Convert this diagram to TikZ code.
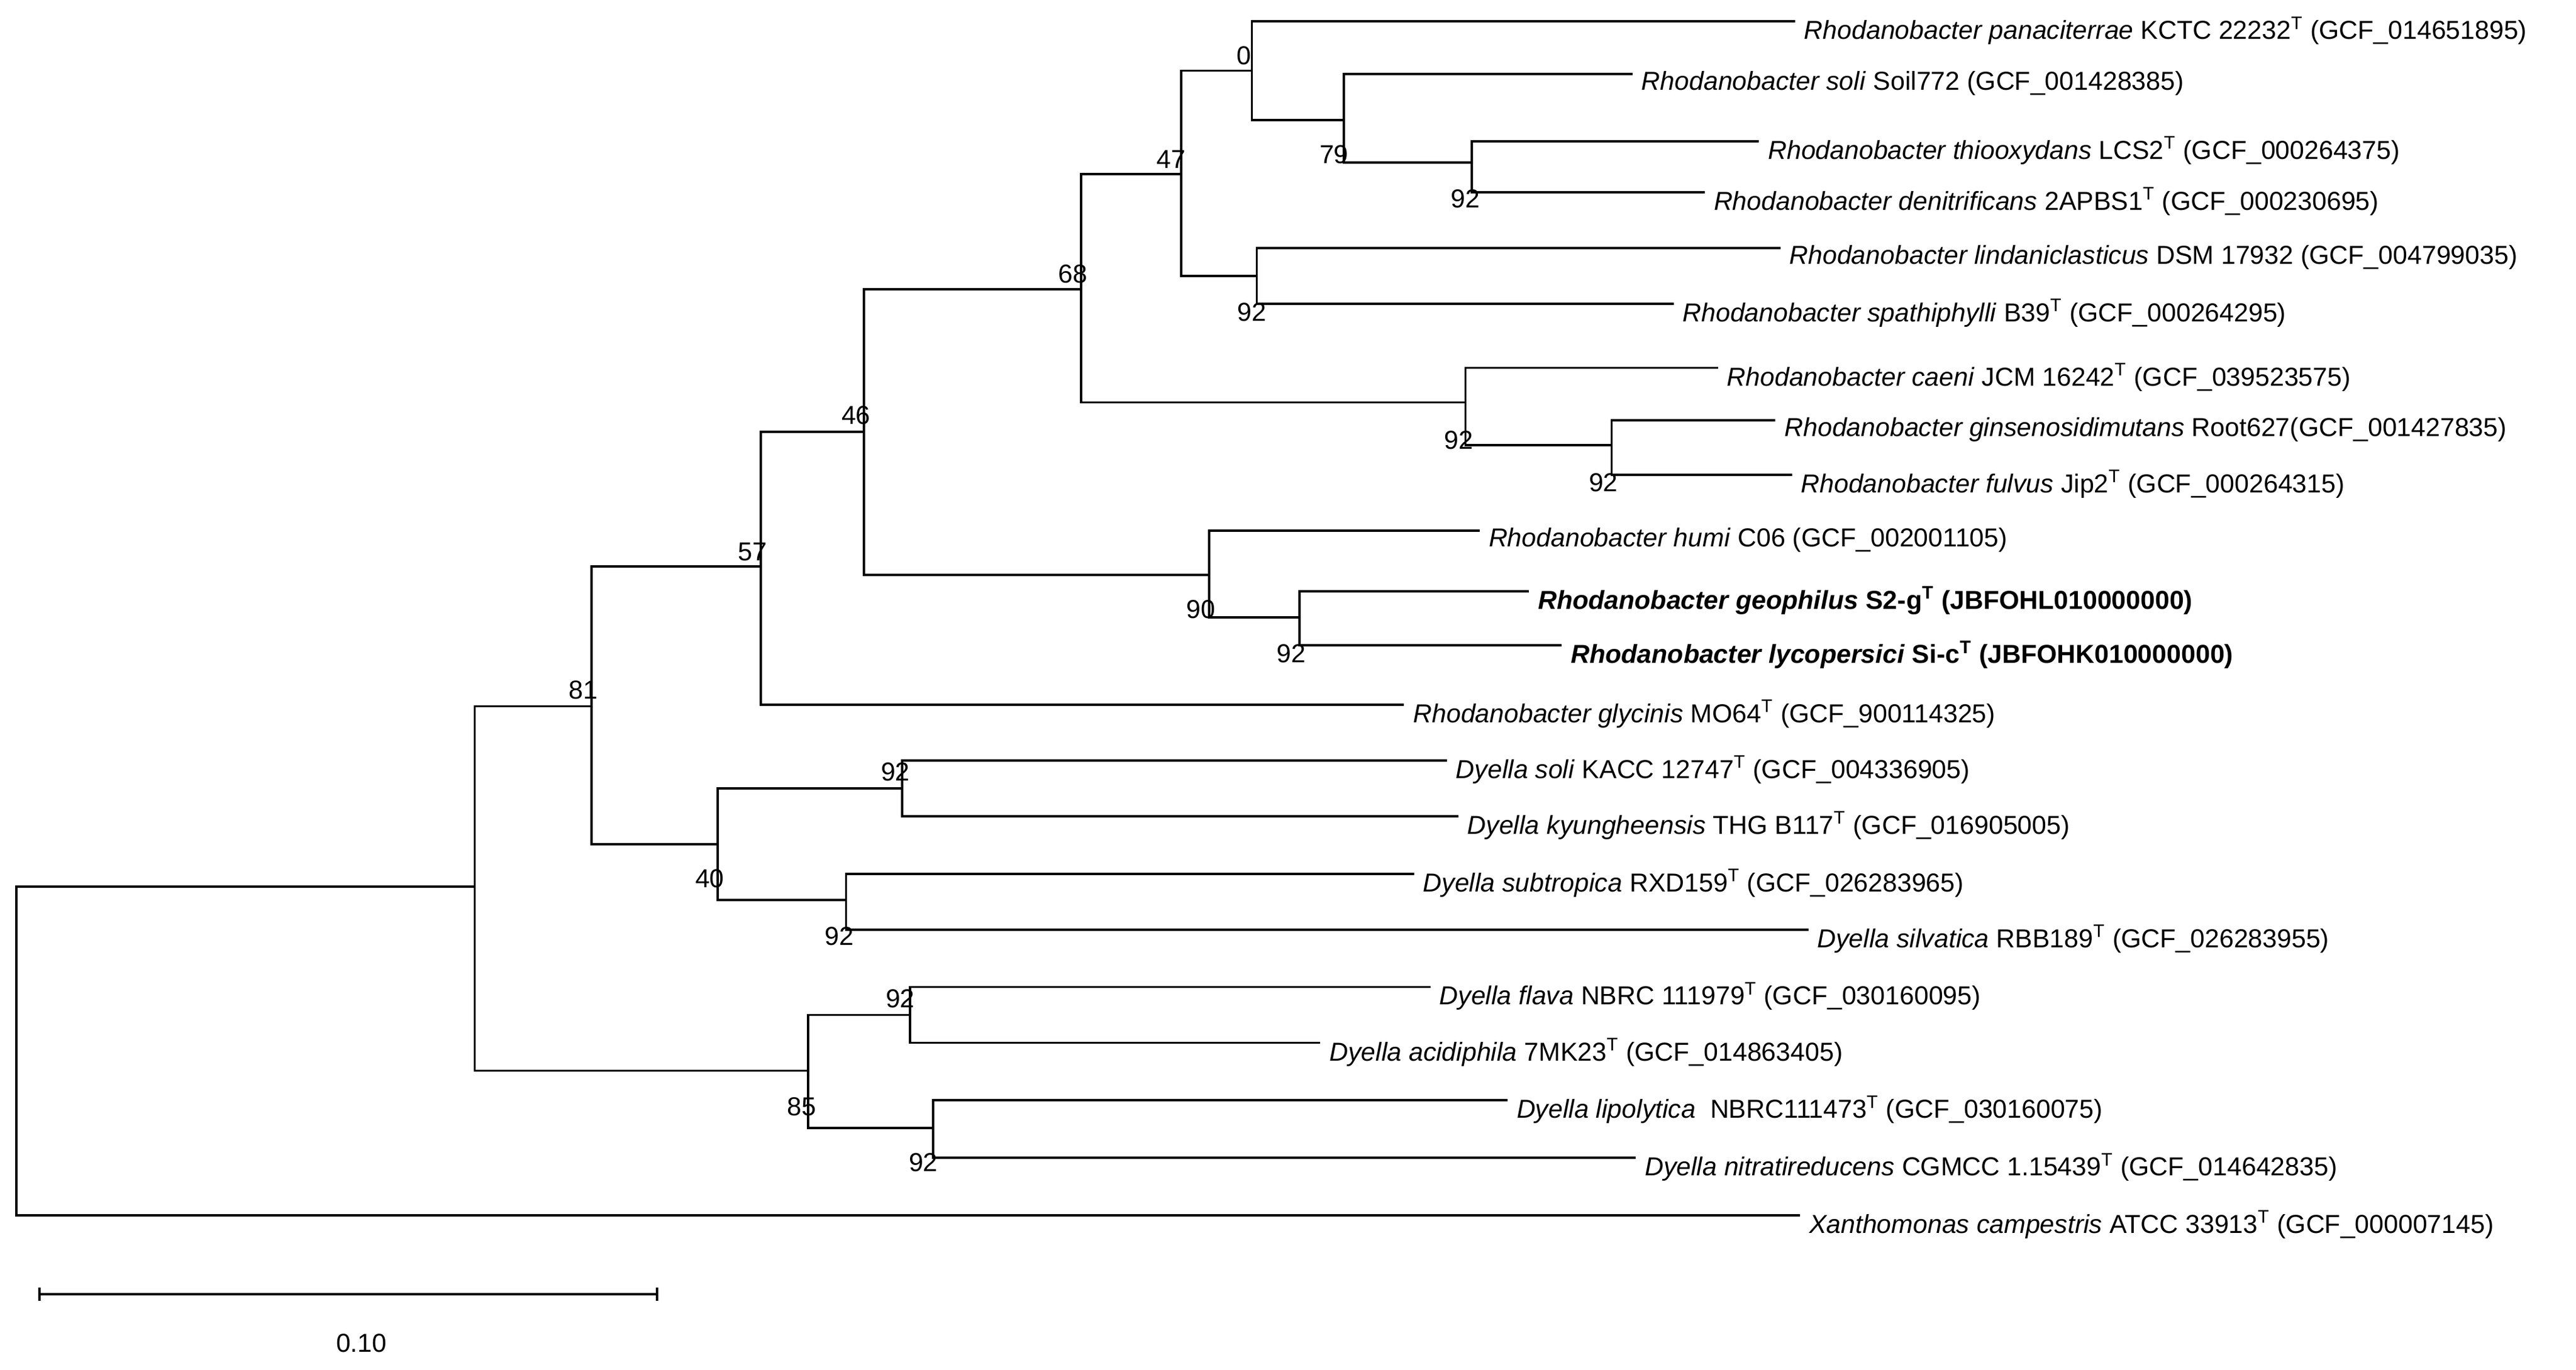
\documentclass[tikz,border=0pt]{standalone}
\usepackage{fontspec}
\setmainfont{Liberation Sans}
\begin{document}
\begin{tikzpicture}[x=0.03cm,y=-0.03cm,
  br/.style={line width=1.2pt,line cap=rect},
  lf/.style={anchor=west,inner sep=0pt,yshift=-0.17cm,font=\fontsize{13.5}{15}\selectfont},
  bs/.style={inner sep=0pt,font=\fontsize{13.5}{15}\selectfont}]
\useasboundingbox (0,0) rectangle (1568,834);
% internal nodes
\coordinate (r) at (10,540);
\coordinate (n289) at (289,540);
\coordinate (n360) at (360,430);
\coordinate (n492) at (492,652);
\coordinate (n463) at (463,345);
\coordinate (n437) at (437,514);
\coordinate (n526) at (526,263);
\coordinate (n658) at (658,176);
\coordinate (n736) at (736,350);
\coordinate (n719) at (719,106);
\coordinate (n892) at (892,245);
\coordinate (n762) at (762,43);
\coordinate (n765) at (765,168);
\coordinate (n818) at (818,73);
\coordinate (n896) at (896,99);
\coordinate (n981) at (981,271);
\coordinate (n791) at (791,376);
\coordinate (n549) at (549,480);
\coordinate (n515) at (515,548);
\coordinate (n554) at (554,618);
\coordinate (n568) at (568,687);
% leaf ends
\coordinate (l1) at (1092,13);
\coordinate (l2) at (993,45);
\coordinate (l3) at (1070,86);
\coordinate (l4) at (1037,117);
\coordinate (l5) at (1083,151);
\coordinate (l6) at (1018,185);
\coordinate (l7) at (1045,224);
\coordinate (l8) at (1080,256);
\coordinate (l9) at (1090,289);
\coordinate (l10) at (900,323);
\coordinate (l11) at (930,360);
\coordinate (l12) at (950,393);
\coordinate (l13) at (854,429);
\coordinate (l14) at (880,463);
\coordinate (l15) at (887,497);
\coordinate (l16) at (860,532);
\coordinate (l17) at (1100,566);
\coordinate (l18) at (870,601);
\coordinate (l19) at (803,635);
\coordinate (l20) at (917,670);
\coordinate (l21) at (995,705);
\coordinate (l22) at (1095,740);
% branches
\draw[br] (r) |- (n289); \draw[br] (r) |- (l22);
\draw[br] (n289) |- (n360); \draw[br] (n289) |- (n492);
\draw[br] (n360) |- (n463); \draw[br] (n360) |- (n437);
\draw[br] (n463) |- (n526); \draw[br] (n463) |- (l13);
\draw[br] (n526) |- (n658); \draw[br] (n526) |- (n736);
\draw[br] (n658) |- (n719); \draw[br] (n658) |- (n892);
\draw[br] (n719) |- (n762); \draw[br] (n719) |- (n765);
\draw[br] (n762) |- (l1); \draw[br] (n762) |- (n818);
\draw[br] (n818) |- (l2); \draw[br] (n818) |- (n896);
\draw[br] (n896) |- (l3); \draw[br] (n896) |- (l4);
\draw[br] (n765) |- (l5); \draw[br] (n765) |- (l6);
\draw[br] (n892) |- (l7); \draw[br] (n892) |- (n981);
\draw[br] (n981) |- (l8); \draw[br] (n981) |- (l9);
\draw[br] (n736) |- (l10); \draw[br] (n736) |- (n791);
\draw[br] (n791) |- (l11); \draw[br] (n791) |- (l12);
\draw[br] (n437) |- (n549); \draw[br] (n437) |- (n515);
\draw[br] (n549) |- (l14); \draw[br] (n549) |- (l15);
\draw[br] (n515) |- (l16); \draw[br] (n515) |- (l17);
\draw[br] (n492) |- (n554); \draw[br] (n492) |- (n568);
\draw[br] (n554) |- (l18); \draw[br] (n554) |- (l19);
\draw[br] (n568) |- (l20); \draw[br] (n568) |- (l21);
% leaf labels
\node[lf] (t1) at ([xshift=0.18cm]l1) {\textit{Rhodanobacter panaciterrae} KCTC 22232\textsuperscript{T} (GCF\_014651895)};
\node[lf] (t2) at ([xshift=0.18cm]l2) {\textit{Rhodanobacter soli} Soil772 (GCF\_001428385)};
\node[lf] (t3) at ([xshift=0.18cm]l3) {\textit{Rhodanobacter thiooxydans} LCS2\textsuperscript{T} (GCF\_000264375)};
\node[lf] (t4) at ([xshift=0.18cm]l4) {\textit{Rhodanobacter denitrificans} 2APBS1\textsuperscript{T} (GCF\_000230695)};
\node[lf] (t5) at ([xshift=0.18cm]l5) {\textit{Rhodanobacter lindaniclasticus} DSM 17932 (GCF\_004799035)};
\node[lf] (t6) at ([xshift=0.18cm]l6) {\textit{Rhodanobacter spathiphylli} B39\textsuperscript{T} (GCF\_000264295)};
\node[lf] (t7) at ([xshift=0.18cm]l7) {\textit{Rhodanobacter caeni} JCM 16242\textsuperscript{T} (GCF\_039523575)};
\node[lf] (t8) at ([xshift=0.18cm]l8) {\textit{Rhodanobacter ginsenosidimutans} Root627(GCF\_001427835)};
\node[lf] (t9) at ([xshift=0.18cm]l9) {\textit{Rhodanobacter fulvus} Jip2\textsuperscript{T} (GCF\_000264315)};
\node[lf] (t10) at ([xshift=0.18cm]l10) {\textit{Rhodanobacter humi} C06 (GCF\_002001105)};
\node[lf] (t11) at ([xshift=0.18cm]l11) {\textbf{\textit{Rhodanobacter geophilus} S2-g\textsuperscript{T} (JBFOHL010000000)}};
\node[lf] (t12) at ([xshift=0.18cm]l12) {\textbf{\textit{Rhodanobacter lycopersici} Si-c\textsuperscript{T} (JBFOHK010000000)}};
\node[lf] (t13) at ([xshift=0.18cm]l13) {\textit{Rhodanobacter glycinis} MO64\textsuperscript{T} (GCF\_900114325)};
\node[lf] (t14) at ([xshift=0.18cm]l14) {\textit{Dyella soli} KACC 12747\textsuperscript{T} (GCF\_004336905)};
\node[lf] (t15) at ([xshift=0.18cm]l15) {\textit{Dyella kyungheensis} THG B117\textsuperscript{T} (GCF\_016905005)};
\node[lf] (t16) at ([xshift=0.18cm]l16) {\textit{Dyella subtropica} RXD159\textsuperscript{T} (GCF\_026283965)};
\node[lf] (t17) at ([xshift=0.18cm]l17) {\textit{Dyella silvatica} RBB189\textsuperscript{T} (GCF\_026283955)};
\node[lf] (t18) at ([xshift=0.18cm]l18) {\textit{Dyella flava} NBRC 111979\textsuperscript{T} (GCF\_030160095)};
\node[lf] (t19) at ([xshift=0.18cm]l19) {\textit{Dyella acidiphila} 7MK23\textsuperscript{T} (GCF\_014863405)};
\node[lf] (t20) at ([xshift=0.18cm]l20) {\textit{Dyella lipolytica}\ \ NBRC111473\textsuperscript{T} (GCF\_030160075)};
\node[lf] (t21) at ([xshift=0.18cm]l21) {\textit{Dyella nitratireducens} CGMCC 1.15439\textsuperscript{T} (GCF\_014642835)};
\node[lf] (t22) at ([xshift=0.18cm]l22) {\textit{Xanthomonas campestris} ATCC 33913\textsuperscript{T} (GCF\_000007145)};
% bootstrap values
\node[bs] (b1) at (757,34) {0};
\node[bs] (b2) at (812,94) {79};
\node[bs] (b3) at (892,121) {92};
\node[bs] (b4) at (713,97) {47};
\node[bs] (b5) at (762,190) {92};
\node[bs] (b6) at (653,167) {68};
\node[bs] (b7) at (888,268) {92};
\node[bs] (b8) at (976,294) {92};
\node[bs] (b9) at (521,253) {46};
\node[bs] (b10) at (731,371) {90};
\node[bs] (b11) at (786,398) {92};
\node[bs] (b12) at (458,336) {57};
\node[bs] (b13) at (355,420) {81};
\node[bs] (b14) at (545,470) {92};
\node[bs] (b15) at (432,535) {40};
\node[bs] (b16) at (511,570) {92};
\node[bs] (b17) at (548,608) {92};
\node[bs] (b18) at (488,674) {85};
\node[bs] (b19) at (562,708) {92};
% scale bar
\coordinate (s1) at (24,788);
\coordinate (s2) at (400,788);
\draw[br] (s1) -- (s2);
\draw[br] ([yshift=0.1cm]s1) -- ([yshift=-0.1cm]s1);
\draw[br] ([yshift=0.1cm]s2) -- ([yshift=-0.1cm]s2);
\node[bs] (sl) at (220,818) {0.10};
\end{tikzpicture}
\end{document}
